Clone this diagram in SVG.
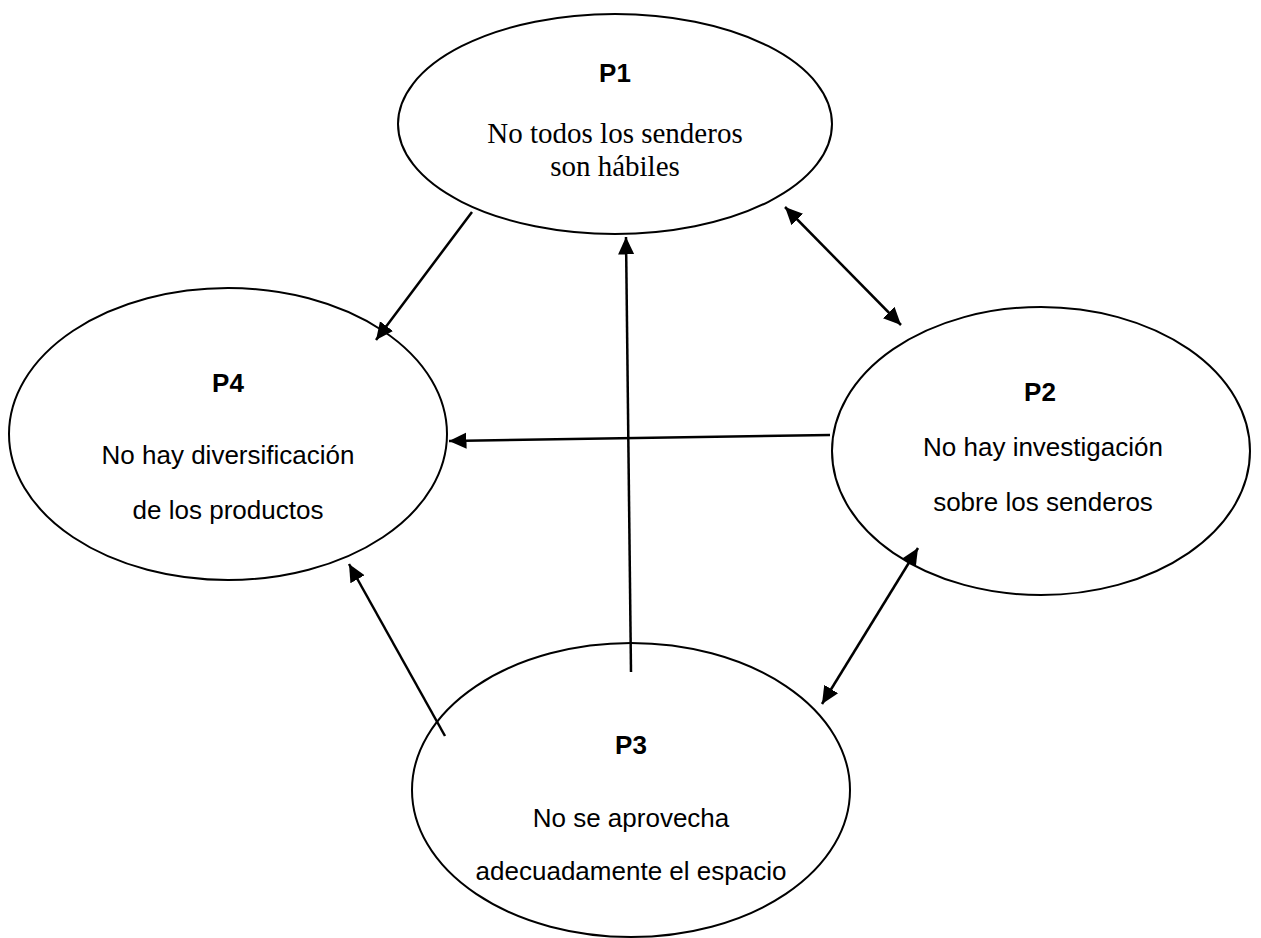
<svg xmlns="http://www.w3.org/2000/svg" width="1261" height="938" viewBox="0 0 1261 938">
<style>
.node{fill:#fff;stroke:#000;stroke-width:2}
.lbl{font-family:"Liberation Sans",Arial,sans-serif;font-weight:bold;font-size:26px;text-anchor:middle;fill:#000}
.txt{font-family:"Liberation Sans",Arial,sans-serif;font-size:26px;text-anchor:middle;fill:#000}
.ser{font-family:"Liberation Serif","Times New Roman",serif;font-size:29px;text-anchor:middle;fill:#000}
.edge{stroke:#000;stroke-width:2.5;fill:none}
</style>
<defs>
<marker id="ah" markerWidth="8" markerHeight="8" refX="7" refY="3.25" orient="auto-start-reverse" markerUnits="strokeWidth" viewBox="0 0 8 6.5">
<path d="M0,0 L7,3.25 L0,6.5 z" fill="#000"/>
</marker>
</defs>
<rect width="1261" height="938" fill="#fff"/>
<g id="P1">
<ellipse class="node" cx="615" cy="124" rx="217" ry="110"/>
<text class="lbl" x="615" y="82">P1</text>
<text class="ser" x="615" y="143">No todos los senderos</text>
<text class="ser" x="615" y="176">son hábiles</text>
</g>
<g id="P4">
<ellipse class="node" cx="228" cy="434" rx="219" ry="146"/>
<text class="lbl" x="228" y="392">P4</text>
<text class="txt" x="228" y="464">No hay diversificación</text>
<text class="txt" x="228" y="519">de los productos</text>
</g>
<g id="P2">
<ellipse class="node" cx="1041" cy="451" rx="209" ry="144"/>
<text class="lbl" x="1040" y="401">P2</text>
<text class="txt" x="1043" y="456">No hay investigación</text>
<text class="txt" x="1043" y="511">sobre los senderos</text>
</g>
<g id="P3">
<ellipse class="node" cx="631" cy="790" rx="219" ry="147"/>
<text class="lbl" x="631" y="754">P3</text>
<text class="txt" x="631" y="827">No se aprovecha</text>
<text class="txt" x="631" y="880">adecuadamente el espacio</text>
</g>
<g id="connectors">
<line class="edge" x1="472" y1="212" x2="376" y2="340" marker-end="url(#ah)"/>
<line class="edge" x1="785" y1="207" x2="901" y2="325" marker-start="url(#ah)" marker-end="url(#ah)"/>
<line class="edge" x1="830" y1="435" x2="449" y2="441" marker-end="url(#ah)"/>
<line class="edge" x1="918" y1="548" x2="822" y2="704" marker-start="url(#ah)" marker-end="url(#ah)"/>
<line class="edge" x1="445" y1="736" x2="349" y2="564" marker-end="url(#ah)"/>
<line class="edge" x1="631" y1="672" x2="626" y2="237" marker-end="url(#ah)"/>
</g>
</svg>
